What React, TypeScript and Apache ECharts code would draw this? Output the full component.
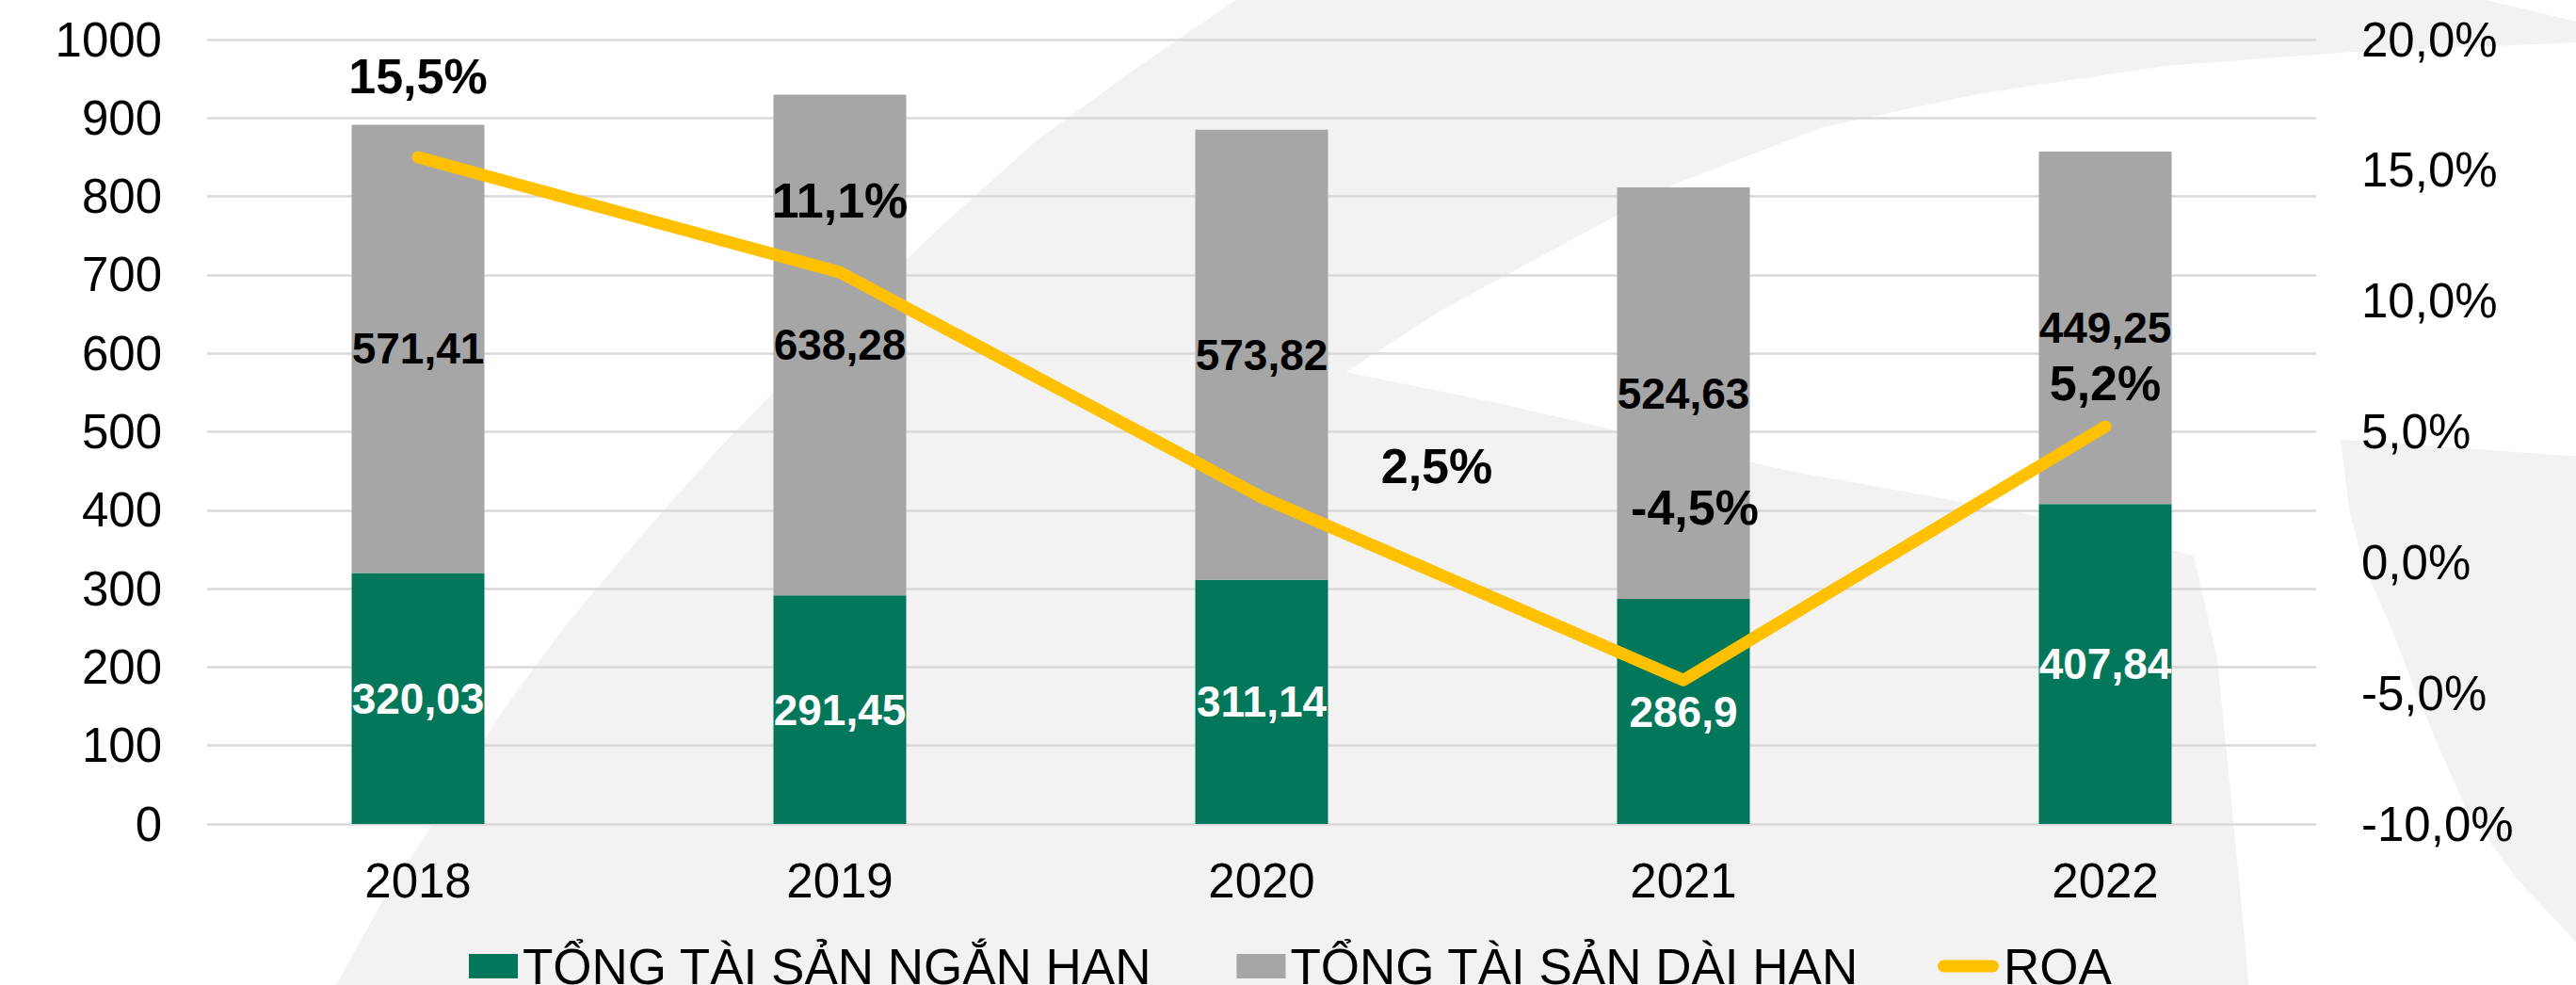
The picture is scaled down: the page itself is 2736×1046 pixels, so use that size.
import React, { useEffect, useRef } from "react";
import * as echarts from "echarts";

const categories = ["2018", "2019", "2020", "2021", "2022"];
const shortTermAssets = [320.03, 291.45, 311.14, 286.9, 407.84];
const longTermAssets = [571.41, 638.28, 573.82, 524.63, 449.25];
const roaValues = [15.5, 11.1, 2.5, -4.5, 5.2];

const leftAxisRange = { min: 0, max: 1000, interval: 100 };
const rightAxisRange = { min: -10, max: 20, interval: 5 };

const seriesNames = ["TỔNG TÀI SẢN NGẮN HẠN", "TỔNG TÀI SẢN DÀI HẠN", "ROA"];

// label placement offsets (pixels) for the ROA labels
const roaLabelOffsets = [
  [0, -86],
  [0, -76],
  [186, -33],
  [12, -183],
  [0, -46],
];

const FONT = "'Liberation Sans', Arial, Helvetica, sans-serif";
const GREEN = "#02775A";
const GRAY = "#A6A6A6";
const YELLOW = "#FFC000";
const WM = "#f2f2f2";

const fmtNum = (v: number) => String(v).replace(".", ",");
const fmtPct = (v: number) => v.toFixed(1).replace(".", ",") + "%";

export default function App() {
  const ref = useRef<HTMLDivElement>(null);

  useEffect(() => {
    if (!ref.current) return;
    const chart = echarts.init(ref.current, undefined, { renderer: "svg" });

    const option: any = {
      animation: false,
      backgroundColor: "#ffffff",
      graphic: {
        elements: [
          {
            type: "polygon",
            z: -10,
            silent: true,
            shape: {
              points: [
                [340, 1060],
                [357, 1046],
                [410, 950],
                [470, 860],
                [530, 760],
                [600, 665],
                [680, 570],
                [760, 480],
                [900, 335],
                [1000, 240],
                [1100, 150],
                [1210, 70],
                [1320, -5],
                [2620, -5],
                [2745, 25],
                [2745, 45],
                [2500, 55],
                [2300, 70],
                [2100, 100],
                [1936, 135],
                [1780, 195],
                [1650, 265],
                [1530, 330],
                [1430, 395],
                [1600, 430],
                [1900, 500],
                [2150, 545],
                [2330, 590],
                [2355, 700],
                [2370, 850],
                [2390, 1060],
              ],
            },
            style: { fill: WM },
          },
          {
            type: "polygon",
            z: -10,
            silent: true,
            shape: {
              points: [
                [2486, 467],
                [2600, 475],
                [2745, 485],
                [2745, 1010],
                [2673, 933],
                [2620, 860],
                [2593, 800],
                [2560, 720],
                [2540, 667],
                [2510, 600],
                [2495, 540],
              ],
            },
            style: { fill: WM },
          },
        ],
      },
      legend: [
        {
          data: [
            { name: seriesNames[0], icon: "rect" },
            { name: seriesNames[1], icon: "rect" },
          ],
          left: 493,
          top: 991,
          itemWidth: 52,
          itemHeight: 26,
          itemGap: 90,
          textStyle: { fontSize: 53, fontFamily: FONT, color: "#000", lineHeight: 60 },
        },
        {
          data: [
            {
              name: seriesNames[2],
              icon: "path://M6.5,0 L58.5,0 A6.5,6.5 0 0 1 58.5,13 L6.5,13 A6.5,6.5 0 0 1 6.5,0 Z",
            },
          ],
          left: 2053,
          top: 991,
          itemWidth: 65,
          itemHeight: 13,
          textStyle: { fontSize: 53, fontFamily: FONT, color: "#000", lineHeight: 60 },
        },
      ],
      grid: { left: 220, right: 276, top: 42, bottom: 171, containLabel: false },
      xAxis: {
        type: "category",
        data: categories,
        axisLine: { show: false },
        axisTick: { show: false },
        axisLabel: {
          fontSize: 51,
          fontFamily: FONT,
          color: "#000",
          margin: 35,
          lineHeight: 51,
        },
      },
      yAxis: [
        {
          type: "value",
          min: leftAxisRange.min,
          max: leftAxisRange.max,
          interval: leftAxisRange.interval,
          axisLine: { show: false },
          axisTick: { show: false },
          splitLine: { show: true, lineStyle: { color: "#d9d9d9", width: 2.5 } },
          axisLabel: {
            fontSize: 51,
            fontFamily: FONT,
            color: "#000",
            margin: 48,
            formatter: (v: number) => String(v),
          },
        },
        {
          type: "value",
          min: rightAxisRange.min,
          max: rightAxisRange.max,
          interval: rightAxisRange.interval,
          position: "right",
          axisLine: { show: false },
          axisTick: { show: false },
          splitLine: { show: false },
          axisLabel: {
            fontSize: 51,
            fontFamily: FONT,
            color: "#000",
            margin: 48,
            formatter: (v: number) => fmtPct(v),
          },
        },
      ],
      series: [
        {
          name: seriesNames[0],
          type: "bar",
          stack: "assets",
          barWidth: 141,
          data: shortTermAssets,
          itemStyle: { color: GREEN },
          label: {
            show: true,
            position: "inside",
            color: "#fff",
            fontSize: 46,
            fontWeight: "bold",
            fontFamily: FONT,
            formatter: (p: any) => fmtNum(p.value),
          },
        },
        {
          name: seriesNames[1],
          type: "bar",
          stack: "assets",
          barWidth: 141,
          data: longTermAssets,
          itemStyle: { color: GRAY },
          label: {
            show: true,
            position: "inside",
            color: "#000",
            fontSize: 46,
            fontWeight: "bold",
            fontFamily: FONT,
            formatter: (p: any) => fmtNum(p.value),
          },
        },
        {
          name: seriesNames[2],
          type: "line",
          yAxisIndex: 1,
          z: 5,
          symbol: "circle",
          symbolSize: 1,
          itemStyle: { color: YELLOW },
          lineStyle: { color: YELLOW, width: 13, cap: "round", join: "round" },
          data: roaValues.map((v, i) => ({
            value: v,
            label: { offset: roaLabelOffsets[i] },
          })),
          label: {
            show: true,
            position: "inside",
            color: "#000",
            fontSize: 52,
            fontWeight: "bold",
            fontFamily: FONT,
            formatter: (p: any) => fmtPct(p.value),
          },
        },
      ],
    };

    chart.setOption(option);
    return () => chart.dispose();
  }, []);

  return (
    <div
      ref={ref}
      style={{ position: "fixed", left: 0, top: 0, width: 2736, height: 1046 }}
    />
  );
}
